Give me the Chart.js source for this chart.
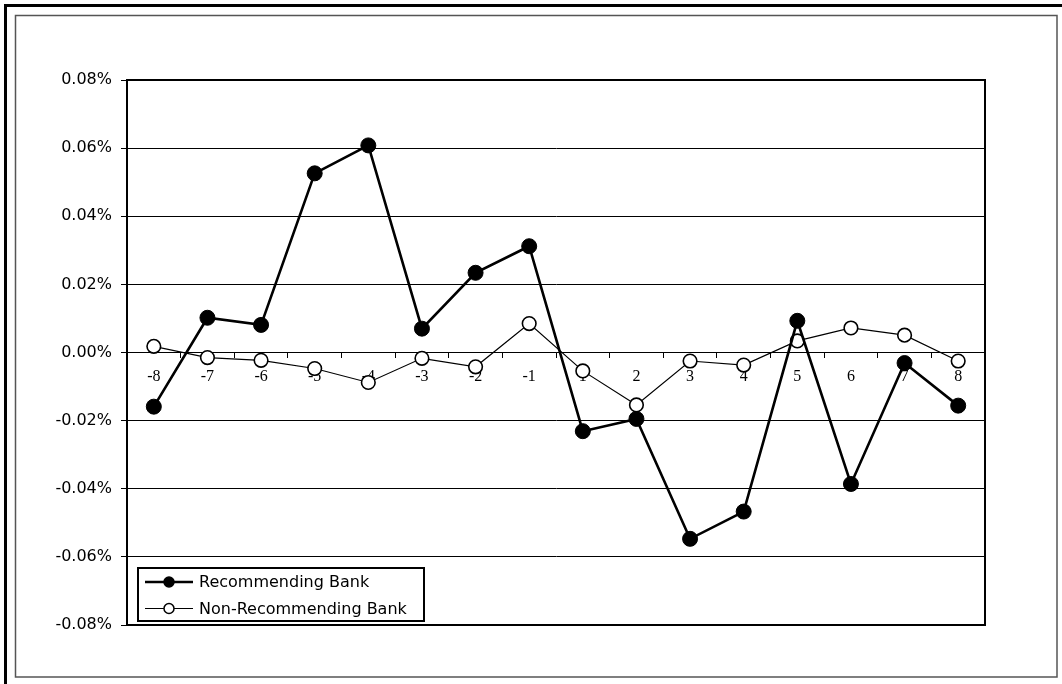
<!DOCTYPE html>
<html>
<head>
<meta charset="utf-8">
<script src="https://cdn.jsdelivr.net/npm/chart.js@4/dist/chart.umd.min.js"></script>
<style>
html,body{margin:0;padding:0;background:#fff;}
#wrap{position:relative;width:1062px;height:684px;}
</style>
</head>
<body>
<div id="wrap"><canvas id="c" width="1062" height="684"></canvas></div>
<script>
// Categories: event days
const days = ['-8','-7','-6','-5','-4','-3','-2','-1','1','2','3','4','5','6','7','8'];
// Values in percent
const recommending = [-0.0159, 0.0102, 0.0081, 0.0526, 0.0608, 0.0070, 0.0234, 0.0312,
                      -0.0231, -0.0195, -0.0547, -0.0467, 0.0093, -0.0386, -0.0031, -0.0156];
const nonRecommending = [0.0018, -0.0015, -0.0023, -0.0047, -0.0088, -0.0017, -0.0042, 0.0085,
                         -0.0054, -0.0154, -0.0025, -0.0037, 0.0034, 0.0072, 0.0051, -0.0025];
const yTicks = [-0.08, -0.06, -0.04, -0.02, 0.00, 0.02, 0.04, 0.06, 0.08];
const seriesNames = ['Recommending Bank', 'Non-Recommending Bank'];

const framePlugin = {
  id: 'frames',
  beforeDraw(chart) {
    const ctx = chart.ctx;
    ctx.save();
    ctx.fillStyle = '#fff';
    ctx.fillRect(0, 0, chart.width, chart.height);
    // thick outer lines (top & left)
    ctx.fillStyle = '#000';
    ctx.fillRect(4, 4, chart.width - 4, 3);
    ctx.fillRect(4, 4, 3, chart.height - 4);
    // inner frame
    ctx.strokeStyle = '#555';
    ctx.lineWidth = 1.5;
    ctx.strokeRect(15.5, 15.5, 1041.5, 661.5);
    ctx.restore();
  },
  afterDatasetsDraw(chart) {
    const ctx = chart.ctx;
    const a = chart.chartArea;
    ctx.save();
    ctx.strokeStyle = '#000';
    ctx.lineWidth = 2;
    ctx.strokeRect(a.left, a.top, a.right - a.left, a.bottom - a.top);
    // legend
    const lx = 138, ly = 568, lw = 286, lh = 53;
    ctx.fillStyle = '#fff';
    ctx.fillRect(lx, ly, lw, lh);
    ctx.lineWidth = 2;
    ctx.strokeStyle = '#000';
    ctx.strokeRect(lx, ly, lw, lh);
    const rows = [582, 608.5];
    chart.data.datasets.forEach((ds, i) => {
      const y = rows[i];
      ctx.strokeStyle = '#000';
      ctx.lineWidth = i === 0 ? ds.borderWidth : 1;
      ctx.beginPath();
      ctx.moveTo(145, y);
      ctx.lineTo(193, y);
      ctx.stroke();
      ctx.beginPath();
      ctx.arc(169, y, 5, 0, Math.PI * 2);
      ctx.fillStyle = ds.pointBackgroundColor;
      ctx.fill();
      ctx.lineWidth = 1.5;
      ctx.stroke();
      ctx.fillStyle = '#000';
      ctx.font = '16px "DejaVu Sans"';
      ctx.textBaseline = 'middle';
      ctx.textAlign = 'left';
      ctx.fillText(ds.label, 199, Math.round(y) + 1);
    });
    ctx.restore();
  }
};

new Chart(document.getElementById('c'), {
  type: 'line',
  data: {
    labels: days,
    datasets: [
      {
        label: seriesNames[0],
        data: recommending,
        borderColor: '#000',
        borderWidth: 2.6,
        pointBackgroundColor: '#000',
        pointBorderColor: '#000',
        pointBorderWidth: 1,
        pointRadius: 7.5,
        tension: 0
      },
      {
        label: seriesNames[1],
        data: nonRecommending,
        borderColor: '#000',
        borderWidth: 1.2,
        pointBackgroundColor: '#fff',
        pointBorderColor: '#000',
        pointBorderWidth: 1.6,
        pointRadius: 6.8,
        tension: 0
      }
    ]
  },
  options: {
    responsive: false,
    animation: false,
    devicePixelRatio: 1,
    layout: { padding: { left: 0, top: 80, right: 77, bottom: 59 } },
    plugins: { legend: { display: false }, tooltip: { enabled: false } },
    scales: {
      y: {
        min: yTicks[0],
        max: yTicks[yTicks.length - 1],
        afterFit: (s) => { s.width = 127; },
        afterBuildTicks: (s) => { s.ticks = yTicks.map(v => ({ value: v })); },
        ticks: {
          callback: (v) => Number(v).toFixed(2) + '%',
          color: '#000',
          font: { family: '"DejaVu Sans"', size: 16 },
          padding: 9
        },
        grid: { color: '#000', lineWidth: 1, tickLength: 6, drawTicks: true },
        border: { display: true, color: '#000', width: 2 }
      },
      x: {
        position: { y: 0 },
        offset: true,
        ticks: {
          color: '#000',
          font: { family: '"Liberation Serif"', size: 16 },
          autoSkip: false,
          maxRotation: 0,
          padding: 10
        },
        grid: { offset: true, drawOnChartArea: false, drawTicks: true, tickLength: 5, color: '#000', lineWidth: 1 },
        border: { display: true, color: '#000', width: 1 }
      }
    }
  },
  plugins: [framePlugin]
});
</script>
</body>
</html>
